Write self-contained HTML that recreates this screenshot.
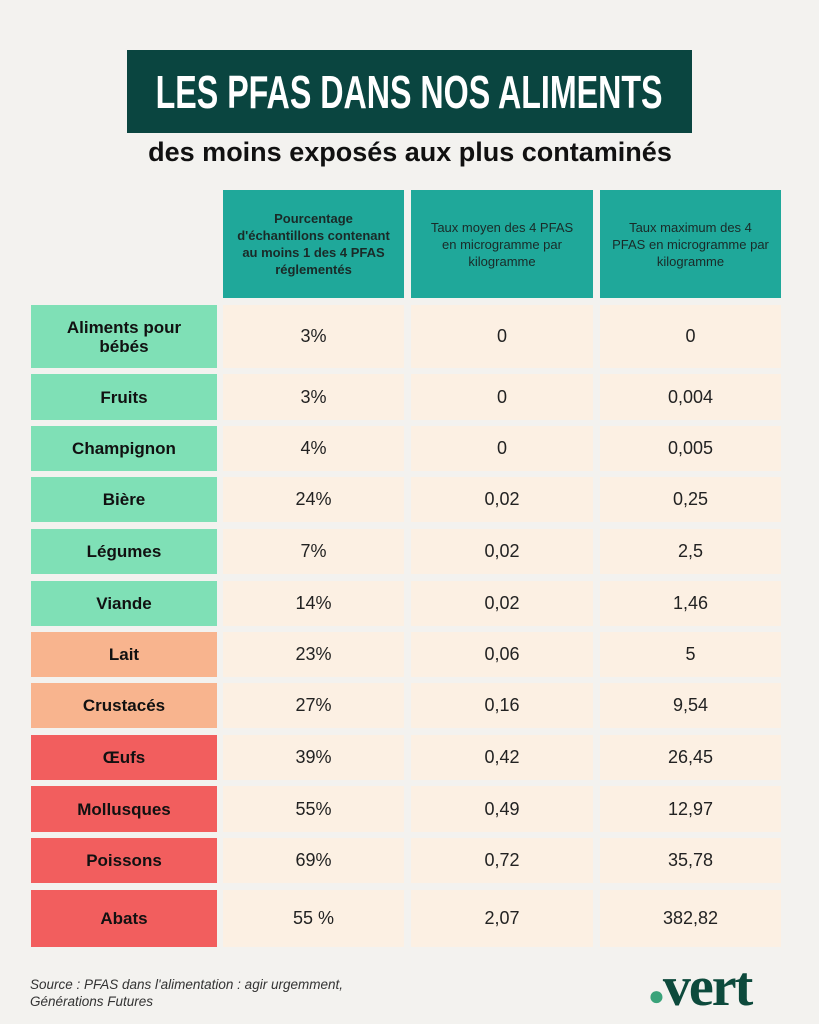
<!DOCTYPE html>
<html><head><meta charset="utf-8"><style>
body{margin:0;width:819px;height:1024px;background:#f3f2ef;font-family:"Liberation Sans",sans-serif;position:relative;overflow:hidden}
.a{position:absolute;box-sizing:border-box;display:flex;align-items:center;justify-content:center;text-align:center}
.t{left:127px;top:50px;width:565px;height:83px;background:#0a4540;color:#fff;font-weight:bold;font-size:46px;white-space:nowrap}
.sub{left:90px;top:132px;width:640px;height:40px;font-size:27px;font-weight:bold;color:#111;white-space:nowrap}
.h{background:#1fa89a;color:#1a2a28;font-size:13px;line-height:17px;font-weight:bold;padding:0 12px}
.l{left:31px;width:186px;font-weight:bold;font-size:17px;color:#111;line-height:19px}
.g{background:#7fe0b6}.o{background:#f8b48e}.r{background:#f25e5e}
.c{background:#fcf0e3;font-size:18px;color:#222}
.src{left:30px;top:976px;font-style:italic;font-size:13.5px;color:#333;text-align:left;display:block;line-height:17px}
.v{left:648px;top:955px;font-family:"Liberation Serif",serif;font-weight:bold;font-size:56px;color:#0d4a3c;display:block;letter-spacing:-2px}
</style></head><body>
<div class="a t"><span style="display:inline-block;transform:scaleX(0.7)">LES PFAS DANS NOS ALIMENTS</span></div>
<div class="a sub">des moins exposés aux plus contaminés</div>
<div class="a h" style="left:223px;top:190px;width:181px;height:108px">Pourcentage d'échantillons contenant au moins 1 des 4 PFAS réglementés</div>
<div class="a h" style="left:411px;top:190px;width:182px;height:108px;font-weight:normal">Taux moyen des 4 PFAS en microgramme par kilogramme</div>
<div class="a h" style="left:600px;top:190px;width:181px;height:108px;font-weight:normal">Taux maximum des 4 PFAS en microgramme par kilogramme</div>
<div id="rows"></div>
<div class="a src">Source : PFAS dans l'alimentation : agir urgemment,<br>Générations Futures</div>
<div class="a v"><span style="color:#3aa37a;font-size:28px">●</span>vert</div>
<script>
var R=[["Aliments pour<br>bébés","g",305,368,"3%","0","0"],["Fruits","g",374,420,"3%","0","0,004"],["Champignon","g",426,471,"4%","0","0,005"],["Bière","g",477,522,"24%","0,02","0,25"],["Légumes","g",529,574,"7%","0,02","2,5"],["Viande","g",581,626,"14%","0,02","1,46"],["Lait","o",632,677,"23%","0,06","5"],["Crustacés","o",683,728,"27%","0,16","9,54"],["Œufs","r",735,780,"39%","0,42","26,45"],["Mollusques","r",786,832,"55%","0,49","12,97"],["Poissons","r",838,883,"69%","0,72","35,78"],["Abats","r",890,947,"55 %","2,07","382,82"]];
var h="";R.forEach(function(r){var t=r[2],H=r[3]-r[2];
h+='<div class="a l '+r[1]+'" style="top:'+t+'px;height:'+H+'px">'+r[0]+'</div>';
h+='<div class="a c" style="left:223px;top:'+t+'px;width:181px;height:'+H+'px">'+r[4]+'</div>';
h+='<div class="a c" style="left:411px;top:'+t+'px;width:182px;height:'+H+'px">'+r[5]+'</div>';
h+='<div class="a c" style="left:600px;top:'+t+'px;width:181px;height:'+H+'px">'+r[6]+'</div>';});
document.getElementById("rows").innerHTML=h;
</script>
</body></html>
